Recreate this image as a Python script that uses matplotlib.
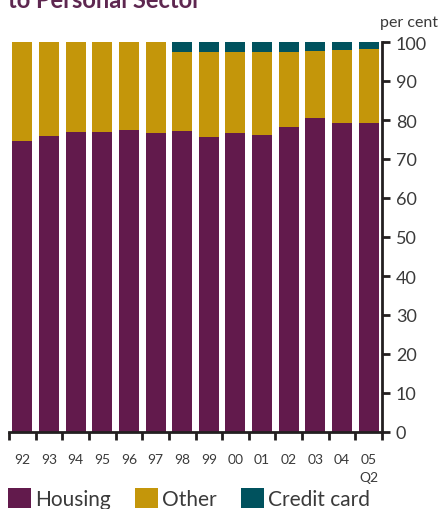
import matplotlib
matplotlib.use("Agg")
import matplotlib.pyplot as plt
import numpy as np

years = ["92", "93", "94", "95", "96", "97", "98", "99", "00", "01", "02", "03", "04", "05"]
housing = [74.6, 75.9, 76.9, 76.9, 77.4, 76.7, 77.2, 75.6, 76.7, 76.2, 78.2, 80.5, 79.2, 79.2]
other = [25.4, 24.1, 23.1, 23.1, 22.6, 23.3, 20.2, 21.8, 20.7, 21.2, 19.2, 17.2, 18.7, 19.0]
credit = [0, 0, 0, 0, 0, 0, 2.6, 2.6, 2.6, 2.6, 2.6, 2.3, 2.1, 1.8]
yticks = [0, 10, 20, 30, 40, 50, 60, 70, 80, 90, 100]

c_house = "#621A4C"
c_other = "#C4960A"
c_credit = "#00525E"
c_axis = "#231F20"
c_text = "#3a3a3a"

plt.rcParams['font.family'] = ['Lato', 'DejaVu Sans']

fig = plt.figure(figsize=(4.48, 5.10), dpi=100)
ax = fig.add_axes([9/448, 1-433/510, (382-9)/448, (433-43)/510])

x = np.arange(len(years))
w = 0.75
h = np.array(housing)
o = np.array(other)
c = np.array(credit)
b1 = ax.bar(x, h, w, color=c_house, label="Housing")
b2 = ax.bar(x, o, w, bottom=h, color=c_other, label="Other")
b3 = ax.bar(x, c, w, bottom=h + o, color=c_credit, label="Credit card")

ax.set_xlim(-0.5, len(years) - 0.5)
ax.set_ylim(0, 100)

for s in ["left", "top"]:
    ax.spines[s].set_visible(False)
for s in ["right", "bottom"]:
    ax.spines[s].set_color(c_axis)
    ax.spines[s].set_linewidth(2)

ax.yaxis.tick_right()
ax.set_yticks(yticks)
ax.set_yticklabels([str(v) for v in yticks])
ax.tick_params(axis="y", direction="out", length=6, width=2, color=c_axis,
               labelsize=13, labelcolor=c_text, pad=4)

ax.set_xticks(x)
ax.set_xticklabels(years)
ax.tick_params(axis="x", which="major", length=0, labelsize=10, labelcolor=c_text, pad=15)
ax.set_xticks(np.arange(-0.5, len(years)), minor=True)
ax.tick_params(axis="x", which="minor", direction="out", length=6, width=2, color=c_axis)

ax.text(len(years) - 1, -10.0, "Q2", ha="center", va="top", fontsize=10, color=c_text)

fig.text(380/448, 1-27/510, "per cent", fontsize=11.5, color=c_text, ha="left", va="baseline")
fig.text(8/448, 1-8/510, "to Personal Sector", fontsize=17, fontweight="bold",
         color="#5E2750", ha="left", va="baseline")

leg = fig.legend(handles=[b1, b2, b3], loc="lower left", bbox_to_anchor=(0.0, -0.017),
                 ncol=3, frameon=False, fontsize=15, handlelength=1.1, handleheight=1.1,
                 handletextpad=0.2, columnspacing=1.15, labelcolor=c_text, borderaxespad=0)

fig.savefig("out.png", dpi=100)
